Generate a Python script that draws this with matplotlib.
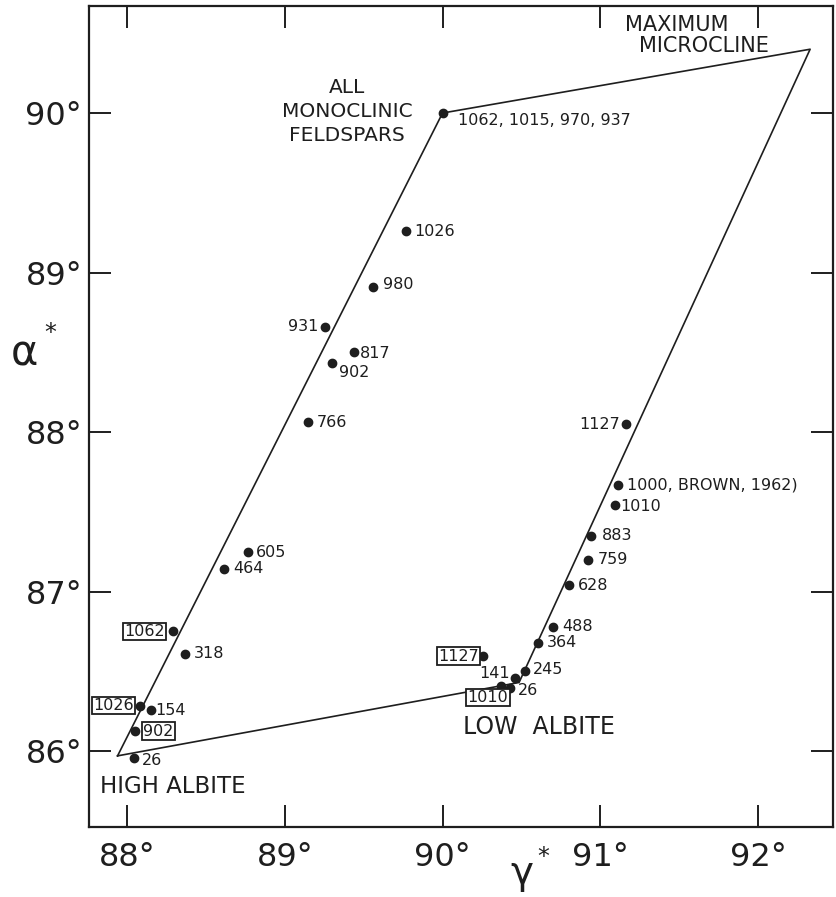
import numpy as np
import matplotlib
matplotlib.use('Agg')
import matplotlib.pyplot as plt
from matplotlib.ticker import FixedLocator, FixedFormatter

# outline: high albite -> monoclinic -> max microcline -> low albite -> high albite
edge_gamma = [87.94, 90.0, 92.33, 90.485, 87.94]
edge_alpha = [85.97, 90.0, 90.40, 86.43, 85.97]

# specimens: label, gamma*, alpha*, boxed label
pt_label = ['1062, 1015, 970, 937', '1026', '980', '931', '817', '902', '766',
            '605', '464', '1062', '318', '1026', '154', '902', '26',
            '1127', '1000, BROWN, 1962)', '1010', '883', '759', '628', '488',
            '364', '245', '1127', '141', '1010', '26']
pt_gamma = [90.0, 89.77, 89.56, 89.255, 89.44, 89.30, 89.15,
            88.767, 88.615, 88.29, 88.37, 88.08, 88.15, 88.05, 88.045,
            91.163, 91.11, 91.09, 90.94, 90.92, 90.80, 90.70,
            90.605, 90.525, 90.257, 90.46, 90.37, 90.43]
pt_alpha = [90.0, 89.26, 88.91, 88.66, 88.50, 88.43, 88.06,
            87.248, 87.141, 86.75, 86.61, 86.28, 86.26, 86.125, 85.955,
            88.05, 87.67, 87.54, 87.35, 87.20, 87.04, 86.78,
            86.68, 86.50, 86.596, 86.46, 86.41, 86.395]
pt_boxed = [False, False, False, False, False, False, False,
            False, False, True, False, True, False, True, False,
            False, False, False, False, False, False, False,
            False, False, True, False, True, False]

x_ticks = [88, 89, 90, 91, 92]
y_ticks = [86, 87, 88, 89, 90]
x_ticklabels = ['88°', '89°', '90°', '91°', '92°']
y_ticklabels = ['86°', '87°', '88°', '89°', '90°']

# label placement in pixels (dx right, dy down) and alignment
lab_off = [(15, 7, 'left'), (8, 0, 'left'), (10, -2, 'left'), (-7, 0, 'right'),
           (6, 1, 'left'), (7, 9, 'left'), (8, 0, 'left'), (8, 0, 'left'),
           (9, -1, 'left'), (-8, 0, 'right'), (8, 0, 'left'), (-6, -1, 'right'),
           (5, 1, 'left'), (8, 0, 'left'), (8, 2, 'left'),
           (-6, 0, 'right'), (9, 0, 'left'), (6, 1, 'left'), (11, 0, 'left'),
           (10, 0, 'left'), (9, 0, 'left'), (9, 0, 'left'), (9, 0, 'left'),
           (8, -2, 'left'), (-4, 0, 'right'), (-5, -4, 'right'),
           (-13, 12, 'center'), (7, 2, 'left')]

ink = '#1e1e1e'
px = 72 / 100.0

fig = plt.figure(figsize=(8.36, 8.97), dpi=100)
ax = fig.add_axes([89 / 836, 1 - 827 / 897, (833 - 89) / 836, (827 - 6) / 897])
ax.set_xlim(87.759, 92.475)
ax.set_ylim(85.524, 90.671)

ax.plot(edge_gamma, edge_alpha, color=ink, lw=1.2, zorder=2)
ax.plot(pt_gamma, pt_alpha, 'o', color=ink, ms=6, zorder=3)

for i in range(len(pt_label)):
    dx, dy, ha = lab_off[i]
    box = None
    if pt_boxed[i]:
        box = dict(boxstyle='square,pad=0.08', fc='white', ec=ink, lw=1.3)
    ax.annotate(pt_label[i], (pt_gamma[i], pt_alpha[i]),
                xytext=(dx * px, -dy * px), textcoords='offset points',
                ha=ha, va='center', fontsize=11.5, color=ink, bbox=box, zorder=4)

ax.text(89.395, 90.01, 'ALL\nMONOCLINIC\nFELDSPARS', ha='center', va='center',
        fontsize=14.5, color=ink, linespacing=1.35)
ax.text(91.487, 90.55, 'MAXIMUM', ha='center', va='center', fontsize=15, color=ink)
ax.text(91.658, 90.42, 'MICROCLINE', ha='center', va='center', fontsize=15, color=ink)
ax.text(87.83, 85.78, 'HIGH ALBITE', ha='left', va='center', fontsize=16.5, color=ink)
ax.text(90.13, 86.15, 'LOW  ALBITE', ha='left', va='center', fontsize=17, color=ink)

for side in ax.spines.values():
    side.set_linewidth(1.6)
    side.set_color(ink)

ax.xaxis.set_major_locator(FixedLocator(x_ticks))
ax.xaxis.set_major_formatter(FixedFormatter(x_ticklabels))
ax.yaxis.set_major_locator(FixedLocator(y_ticks))
ax.yaxis.set_major_formatter(FixedFormatter(y_ticklabels))
ax.tick_params(direction='in', length=16, width=1.4, color=ink,
               top=True, right=True, labelsize=23, labelcolor=ink)
ax.tick_params(axis='x', pad=11)
ax.tick_params(axis='y', pad=5)

# axis names: greek letter with a small raised asterisk
fig.text(24 / 836, 1 - 353 / 897, 'α', fontsize=30, color=ink,
         ha='center', va='center')
fig.text(50 / 836, 1 - 333 / 897, '*', fontsize=17, color=ink,
         ha='center', va='center')
fig.text(522 / 836, 1 - 873 / 897, 'γ', fontsize=28, color=ink,
         ha='center', va='center')
fig.text(543 / 836, 1 - 857 / 897, '*', fontsize=17, color=ink,
         ha='center', va='center')

fig.savefig('out.png', dpi=100)
